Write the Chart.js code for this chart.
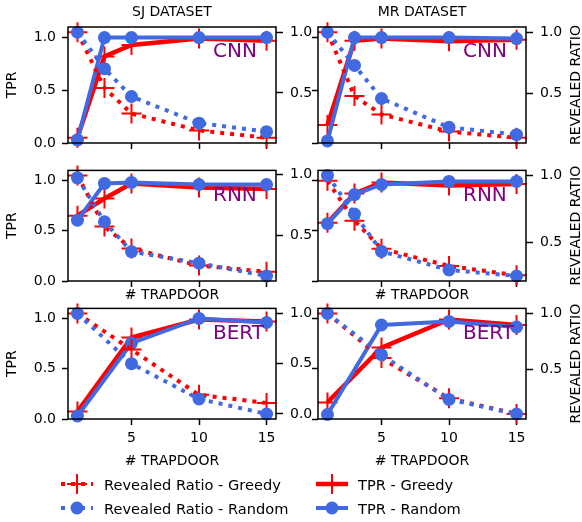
<!DOCTYPE html>
<html>
<head>
<meta charset="utf-8">
<script src="https://cdn.jsdelivr.net/npm/chart.js"></script>
<style>
  body { margin: 0; background: #fff; }
  #fig { position: relative; width: 582px; height: 522px; font-family: "DejaVu Sans", sans-serif; overflow: hidden; }
  #fig canvas { position: absolute; }
  .leg { position: absolute; height: 22px; display: flex; align-items: center; font-size: 14.6px; color: #000; white-space: nowrap; }
  .leg svg { flex: none; }
</style>
</head>
<body>
<div id="fig">
  <canvas id="c00"></canvas>
  <canvas id="c01"></canvas>
  <canvas id="c10"></canvas>
  <canvas id="c11"></canvas>
  <canvas id="c20"></canvas>
  <canvas id="c21"></canvas>

  <!-- legend -->
  <div class="leg" style="left:61px; top:473px">
    <svg width="32" height="22"><line x1="0" y1="11" x2="32" y2="11" stroke="#ff0000" stroke-width="4" stroke-dasharray="4 6"/><path d="M16 1V21M6 11H26" stroke="#ff0000" stroke-width="2"/></svg>
    <span style="margin-left:11px">Revealed Ratio - Greedy</span>
  </div>
  <div class="leg" style="left:61px; top:497px">
    <svg width="32" height="22"><line x1="0" y1="11" x2="32" y2="11" stroke="#4169e1" stroke-width="4" stroke-dasharray="4 6"/><circle cx="16" cy="11" r="6.5" fill="#4169e1"/></svg>
    <span style="margin-left:11px">Revealed Ratio - Random</span>
  </div>
  <div class="leg" style="left:316px; top:473px">
    <svg width="32" height="22"><line x1="0" y1="11" x2="32" y2="11" stroke="#ff0000" stroke-width="4.5"/><path d="M16 1V21M6 11H26" stroke="#ff0000" stroke-width="2"/></svg>
    <span style="margin-left:10px">TPR - Greedy</span>
  </div>
  <div class="leg" style="left:316px; top:497px">
    <svg width="32" height="22"><line x1="0" y1="11" x2="32" y2="11" stroke="#4169e1" stroke-width="4"/><circle cx="16" cy="11" r="6.5" fill="#4169e1"/></svg>
    <span style="margin-left:10px">TPR - Random</span>
  </div>
</div>

<script>
// x values (# trapdoor)
var trapdoor = [1, 3, 5, 10, 15];
var trapdoorBert = [1, 5, 10, 15];
var xTicks = [5, 10, 15];
var tprTicks = [0, 0.5, 1.0];
var ratioTicks = [0, 0.5, 1.0];

// SJ dataset
var sjCnnTprGreedy = [0.05, 0.82, 0.93, 0.99, 0.97];
var sjCnnTprRandom = [0.03, 1.0, 1.0, 1.0, 1.0];
var sjCnnRatioGreedy = [1.0, 0.54, 0.33, 0.19, 0.13];
var sjCnnRatioRandom = [1.0, 0.70, 0.47, 0.25, 0.18];

var sjRnnTprGreedy = [0.65, 0.82, 0.97, 0.93, 0.915];
var sjRnnTprRandom = [0.605, 0.97, 0.98, 0.96, 0.96];
var sjRnnRatioGreedy = [0.99, 0.57, 0.39, 0.25, 0.20];
var sjRnnRatioRandom = [0.97, 0.61, 0.365, 0.27, 0.165];

var sjBertTprGreedy = [0.075, 0.81, 0.99, 0.97];
var sjBertTprRandom = [0.03, 0.755, 1.0, 0.96];
var sjBertRatioGreedy = [1.0, 0.64, 0.19, 0.11];
var sjBertRatioRandom = [1.0, 0.50, 0.15, 0.0];

// MR dataset
var mrCnnTprGreedy = [0.17, 0.97, 0.99, 0.965, 0.98];
var mrCnnTprRandom = [0.02, 1.0, 1.0, 1.0, 0.99];
var mrCnnRatioGreedy = [1.0, 0.48, 0.33, 0.19, 0.14];
var mrCnnRatioRandom = [1.0, 0.73, 0.46, 0.225, 0.165];

var mrRnnTprGreedy = [0.58, 0.87, 0.98, 0.95, 0.965];
var mrRnnTprRandom = [0.57, 0.86, 0.96, 0.99, 0.99];
var mrRnnRatioGreedy = [0.96, 0.66, 0.45, 0.32, 0.25];
var mrRnnRatioRandom = [1.0, 0.71, 0.43, 0.29, 0.245];

var mrBertTprGreedy = [0.165, 0.71, 0.99, 0.935];
var mrBertTprRandom = [0.045, 0.935, 0.97, 0.915];
var mrBertRatioGreedy = [1.0, 0.60, 0.24, 0.10];
var mrBertRatioRandom = [1.0, 0.63, 0.23, 0.10];

var RED = '#ff0000';
var BLUE = '#4169e1';
var FONT = { family: 'DejaVu Sans', size: 14 };

// canvas geometry per column / row
var cols = [
  { left: 0, w: 320, yw: 68, y1w: 44 },
  { left: 270, w: 312, yw: 48, y1w: 56 }
];
var rows = [
  { top: 0, pad: 27, xh: 20 },
  { top: 155, pad: 10, xh: 27 },
  { top: 293, pad: 10, xh: 55 }
];
var PLOT_H = 116;

// frame, model name, column title, right axis title
var decor = {
  id: 'decor',
  afterDraw: function (chart, args, o) {
    var ctx = chart.ctx, a = chart.chartArea;
    ctx.save();
    ctx.strokeStyle = '#000';
    ctx.lineWidth = 1.5;
    ctx.strokeRect(a.left, a.top, a.right - a.left, a.bottom - a.top);
    ctx.fillStyle = '#800080';
    ctx.font = '20px "DejaVu Sans"';
    ctx.textAlign = 'left';
    ctx.textBaseline = 'middle';
    ctx.fillText(o.model, a.left + 145, a.top + 25);
    ctx.fillStyle = '#000';
    ctx.font = '14px "DejaVu Sans"';
    if (o.title) {
      ctx.textAlign = 'center';
      ctx.fillText(o.title, (a.left + a.right) / 2, 12);
    }
    if (o.rightTitle) {
      ctx.translate(chart.width - 6, (a.top + a.bottom) / 2);
      ctx.rotate(-Math.PI / 2);
      ctx.textAlign = 'center';
      ctx.fillText('REVEALED RATIO', 0, 0);
    }
    ctx.restore();
  }
};

function pts(xs, ys) {
  return xs.map(function (x, i) { return { x: x, y: ys[i] }; });
}

function tickMarks(len) {
  return { display: true, drawOnChartArea: false, drawTicks: true, tickLength: len, tickColor: '#000', tickWidth: 1.5 };
}

function panel(id, col, row, xs, tprG, tprR, ratioG, ratioR, model, title) {
  var g = cols[col], r = rows[row];
  var cv = document.getElementById(id);
  cv.width = g.w;
  cv.height = r.pad + PLOT_H + r.xh;
  cv.style.left = g.left + 'px';
  cv.style.top = r.top + 'px';

  // right axis autoscaled with 5% margins
  var all = ratioG.concat(ratioR);
  var lo = Math.min.apply(null, all), hi = Math.max.apply(null, all);
  var m = (hi - lo) * 0.05;

  new Chart(cv, {
    type: 'line',
    data: {
      datasets: [
        { label: 'TPR - Greedy', data: pts(xs, tprG), yAxisID: 'y', order: 4,
          borderColor: RED, borderWidth: 4.5, pointStyle: 'cross', pointRadius: 10,
          pointBorderWidth: 2, pointBorderColor: RED, fill: false, clip: false },
        { label: 'TPR - Random', data: pts(xs, tprR), yAxisID: 'y', order: 3,
          borderColor: BLUE, borderWidth: 4, pointStyle: 'circle', pointRadius: 6.5,
          pointBorderWidth: 0, pointBackgroundColor: BLUE, fill: false, clip: false },
        { label: 'Revealed Ratio - Greedy', data: pts(xs, ratioG), yAxisID: 'y1', order: 2,
          borderColor: RED, borderWidth: 4, borderDash: [4, 6], pointStyle: 'cross', pointRadius: 10,
          pointBorderWidth: 2, pointBorderColor: RED, fill: false, clip: false },
        { label: 'Revealed Ratio - Random', data: pts(xs, ratioR), yAxisID: 'y1', order: 1,
          borderColor: BLUE, borderWidth: 4, borderDash: [4, 6], pointStyle: 'circle', pointRadius: 6.5,
          pointBorderWidth: 0, pointBackgroundColor: BLUE, fill: false, clip: false }
      ]
    },
    options: {
      responsive: false,
      animation: false,
      layout: { padding: { top: r.pad, left: 0, right: 0, bottom: 0 } },
      plugins: {
        legend: { display: false },
        tooltip: { enabled: false },
        decor: { model: model, title: title, rightTitle: col === 1 }
      },
      scales: {
        x: {
          type: 'linear', min: 0.3, max: 15.7,
          afterBuildTicks: function (s) { s.ticks = xTicks.map(function (v) { return { value: v }; }); },
          ticks: { display: row === 2, font: FONT, color: '#000', padding: 5, maxRotation: 0, autoSkip: false,
                   callback: function (v) { return String(v); } },
          grid: tickMarks(6),
          border: { display: false },
          title: { display: row > 0, text: '# TRAPDOOR', font: FONT, color: '#000', padding: { top: 4, bottom: 4 } },
          afterFit: function (s) { s.height = r.xh; }
        },
        y: {
          position: 'left', min: 0, max: 1.1,
          afterBuildTicks: function (s) { s.ticks = tprTicks.map(function (v) { return { value: v }; }); },
          ticks: { display: col === 0, font: FONT, color: '#000', padding: 6,
                   callback: function (v) { return v.toFixed(1); } },
          grid: tickMarks(6),
          border: { display: false },
          title: { display: col === 0, text: 'TPR', font: FONT, color: '#000', padding: { top: 4, bottom: 4 } },
          afterFit: function (s) { s.width = g.yw; }
        },
        y1: {
          position: 'right', min: lo - m, max: hi + m,
          afterBuildTicks: function (s) {
            s.ticks = ratioTicks.filter(function (v) { return v >= s.min && v <= s.max; })
                                .map(function (v) { return { value: v }; });
          },
          ticks: { display: true, font: FONT, color: '#000', padding: 7,
                   callback: function (v) { return v.toFixed(1); } },
          grid: tickMarks(7),
          border: { display: false },
          afterFit: function (s) { s.width = g.y1w; }
        }
      }
    },
    plugins: [decor]
  });
}

panel('c00', 0, 0, trapdoor, sjCnnTprGreedy, sjCnnTprRandom, sjCnnRatioGreedy, sjCnnRatioRandom, 'CNN', 'SJ DATASET');
panel('c01', 1, 0, trapdoor, mrCnnTprGreedy, mrCnnTprRandom, mrCnnRatioGreedy, mrCnnRatioRandom, 'CNN', 'MR DATASET');
panel('c10', 0, 1, trapdoor, sjRnnTprGreedy, sjRnnTprRandom, sjRnnRatioGreedy, sjRnnRatioRandom, 'RNN');
panel('c11', 1, 1, trapdoor, mrRnnTprGreedy, mrRnnTprRandom, mrRnnRatioGreedy, mrRnnRatioRandom, 'RNN');
panel('c20', 0, 2, trapdoorBert, sjBertTprGreedy, sjBertTprRandom, sjBertRatioGreedy, sjBertRatioRandom, 'BERT');
panel('c21', 1, 2, trapdoorBert, mrBertTprGreedy, mrBertTprRandom, mrBertRatioGreedy, mrBertRatioRandom, 'BERT');
</script>
</body>
</html>
